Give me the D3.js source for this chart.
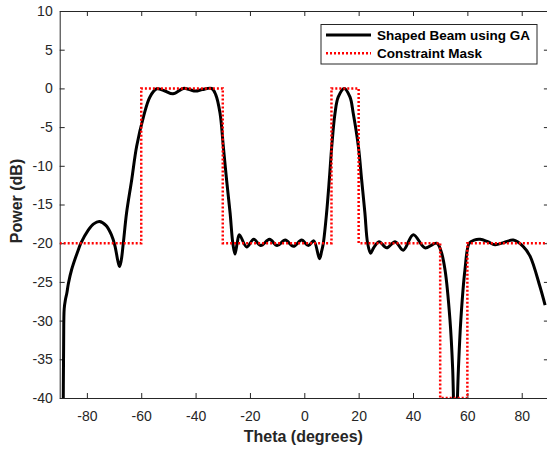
<!DOCTYPE html>
<html>
<head>
<meta charset="utf-8">
<script src="https://cdn.jsdelivr.net/npm/d3@7"></script>
<style>
  body { margin: 0; background: #fff; }
  svg { display: block; font-family: "Liberation Sans", Arial, sans-serif; }
</style>
</head>
<body>
<svg id="chart" width="547" height="450"></svg>
<script>
// beam pattern (theta in degrees, power in dB)
const beamTheta = [-88.75, -88.55, -88.35, -87.9, -87.4, -86.8, -85.6, -83.2, -82.2, -79.5, -77.5, -75.4, -73, -71,
  -69.7, -68.6, -68, -67.4, -66.6, -65.4, -63.5, -61.7, -59.2, -56.8, -54.3, -51.5, -48.3,
  -44.5, -42.3, -40, -37.5, -34.1, -32.6, -31, -29.8, -28.6, -27.3, -26.3, -25.5, -24.7,
  -23.9, -21.2, -18.6, -16, -12.8, -10, -7, -4, -1, 1.5, 3.5, 5.6, 6.4, 7, 8.2, 9.2, 10.1,
  11.3, 12.5, 14.7, 16.8, 18, 19.9, 21.1, 22.3, 23.3, 24.4, 25.5, 27.5, 30.3, 33.4, 36.4,
  40.1, 44.4, 48.7, 50.3, 51.8, 53.6, 54.6, 55.5, 56.7, 57.6, 59.1, 60.7, 62.5, 64.7, 67.5,
  70.2, 73.5, 76.9, 80.5, 83.1, 86.7, 88.6];
const beamPower = [-45, -33, -28.5, -27.3, -26.5, -25.2, -23.4, -20.9, -20, -18.3, -17.5, -17.2, -17.7, -18.9,
  -20.3, -22.3, -23, -22.3, -20, -16.1, -11.8, -7.5, -3.7, -1.1, -0.05, -0.3, -0.7,
  0, -0.15, -0.35, -0.15, 0, -0.8, -3.2, -7.5, -11.8, -16.1, -20, -21.4, -20,
  -18.9, -20.5, -19.5, -20.3, -19.5, -20.3, -19.6, -20.4, -19.6, -20.3, -19.7, -22, -21, -20, -16.1, -11.8, -7.5,
  -3.2, -1.1, 0, -1.1, -3.2, -7.5, -11.8, -16.1, -20, -21.3, -20.6, -19.8, -20.6, -19.8, -20.9,
  -18.9, -20.6, -20, -21, -23.5, -29.9, -36.3, -48, -36.3, -29.9, -23.5, -20, -19.6, -19.5, -19.8,
  -20.2, -19.9, -19.6, -20.4, -21.7, -25.6, -28];

// constraint mask corners
const maskTheta = [-90, -60, -60, -30, -30, 10, 10, 20, 20, 50, 50, 60, 60, 90];
const maskPower = [-20, -20, 0, 0, -20, -20, 0, 0, -20, -20, -40, -40, -20, -20];

const xTicks = [-80, -60, -40, -20, 0, 20, 40, 60, 80];
const yTicks = [-40, -35, -30, -25, -20, -15, -10, -5, 0, 5, 10];

const seriesNames = ["Shaped Beam using GA", "Constraint Mask"];

const beam = beamTheta.map((t, i) => ({t: t, p: beamPower[i]}));
const mask = maskTheta.map((t, i) => ({t: t, p: maskPower[i]}));

const plotLeft = 59.7, plotRight = 548.9, plotTop = 11, plotBottom = 398;
const axisColor = "#262626";

const x = d3.scaleLinear().domain([-90, 90]).range([plotLeft, plotRight]);
const y = d3.scaleLinear().domain([-40, 10]).range([plotBottom, plotTop]);

const svg = d3.select("#chart");

svg.append("defs").append("clipPath").attr("id", "plotclip")
  .append("rect")
  .attr("x", plotLeft).attr("y", plotTop)
  .attr("width", plotRight - plotLeft).attr("height", plotBottom - plotTop);

const fmt = d => String(d);

// axes, ticks pointing inward like matlab
const gx = svg.append("g")
  .attr("transform", "translate(0," + plotBottom + ")")
  .call(d3.axisBottom(x).tickValues(xTicks).tickSize(-5).tickSizeOuter(0).tickPadding(13).tickFormat(fmt));

const gy = svg.append("g")
  .attr("transform", "translate(" + plotLeft + ",0)")
  .call(d3.axisLeft(y).tickValues(yTicks).tickSize(-5).tickSizeOuter(0).tickPadding(7).tickFormat(fmt));

const gt = svg.append("g")
  .attr("transform", "translate(0," + plotTop + ")")
  .call(d3.axisTop(x).tickValues(xTicks).tickSize(-5).tickSizeOuter(0).tickFormat(""));

const gr = svg.append("g")
  .attr("transform", "translate(" + plotRight + ",0)")
  .call(d3.axisRight(y).tickValues(yTicks).tickSize(-5).tickSizeOuter(0).tickFormat(""));

[gx, gy, gt, gr].forEach(g => {
  g.selectAll(".domain").attr("stroke", axisColor);
  g.selectAll(".tick line").attr("stroke", axisColor);
  g.selectAll(".tick text")
    .attr("fill", axisColor)
    .style("font-size", "14px")
    .style("font-family", "'Liberation Sans', Arial, sans-serif");
});

// curves
const line = d3.line()
  .x(d => x(d.t))
  .y(d => y(d.p))
  .curve(d3.curveCatmullRom.alpha(0.5));

const maskLine = d3.line()
  .x(d => x(d.t))
  .y(d => y(d.p));

const plot = svg.append("g").attr("clip-path", "url(#plotclip)");

plot.append("path")
  .datum(beam)
  .attr("fill", "none")
  .attr("stroke", "#000")
  .attr("stroke-width", 3)
  .attr("stroke-linejoin", "round")
  .attr("d", line);

plot.append("path")
  .datum(mask)
  .attr("fill", "none")
  .attr("stroke", "#f00")
  .attr("stroke-width", 2.5)
  .attr("stroke-dasharray", "2,2")
  .attr("d", maskLine);

// axis labels
svg.append("text")
  .attr("x", (plotLeft + plotRight) / 2 - 1)
  .attr("y", 442)
  .attr("text-anchor", "middle")
  .attr("fill", axisColor)
  .style("font-size", "16px")
  .style("font-weight", "bold")
  .text("Theta (degrees)");

svg.append("text")
  .attr("transform", "translate(22," + 201 + ") rotate(-90)")
  .attr("text-anchor", "middle")
  .attr("fill", axisColor)
  .style("font-size", "16px")
  .style("font-weight", "bold")
  .text("Power (dB)");

// legend
const legend = svg.append("g");
legend.append("rect")
  .attr("x", 321).attr("y", 24.5)
  .attr("width", 216).attr("height", 39.5)
  .attr("fill", "#fff")
  .attr("stroke", axisColor)
  .attr("stroke-width", 1);

const legendStyle = [
  {stroke: "#000", width: 3, dash: null},
  {stroke: "#f00", width: 2.5, dash: "2,2"}
];

seriesNames.forEach((name, i) => {
  const ly = 35 + i * 18.3;
  legend.append("line")
    .attr("x1", 326).attr("x2", 371)
    .attr("y1", ly).attr("y2", ly)
    .attr("stroke", legendStyle[i].stroke)
    .attr("stroke-width", legendStyle[i].width)
    .attr("stroke-dasharray", legendStyle[i].dash);
  legend.append("text")
    .attr("x", 377).attr("y", ly)
    .attr("dy", "0.35em")
    .attr("fill", "#000")
    .style("font-size", "13.5px")
    .style("font-weight", "bold")
    .text(name);
});
</script>
</body>
</html>
